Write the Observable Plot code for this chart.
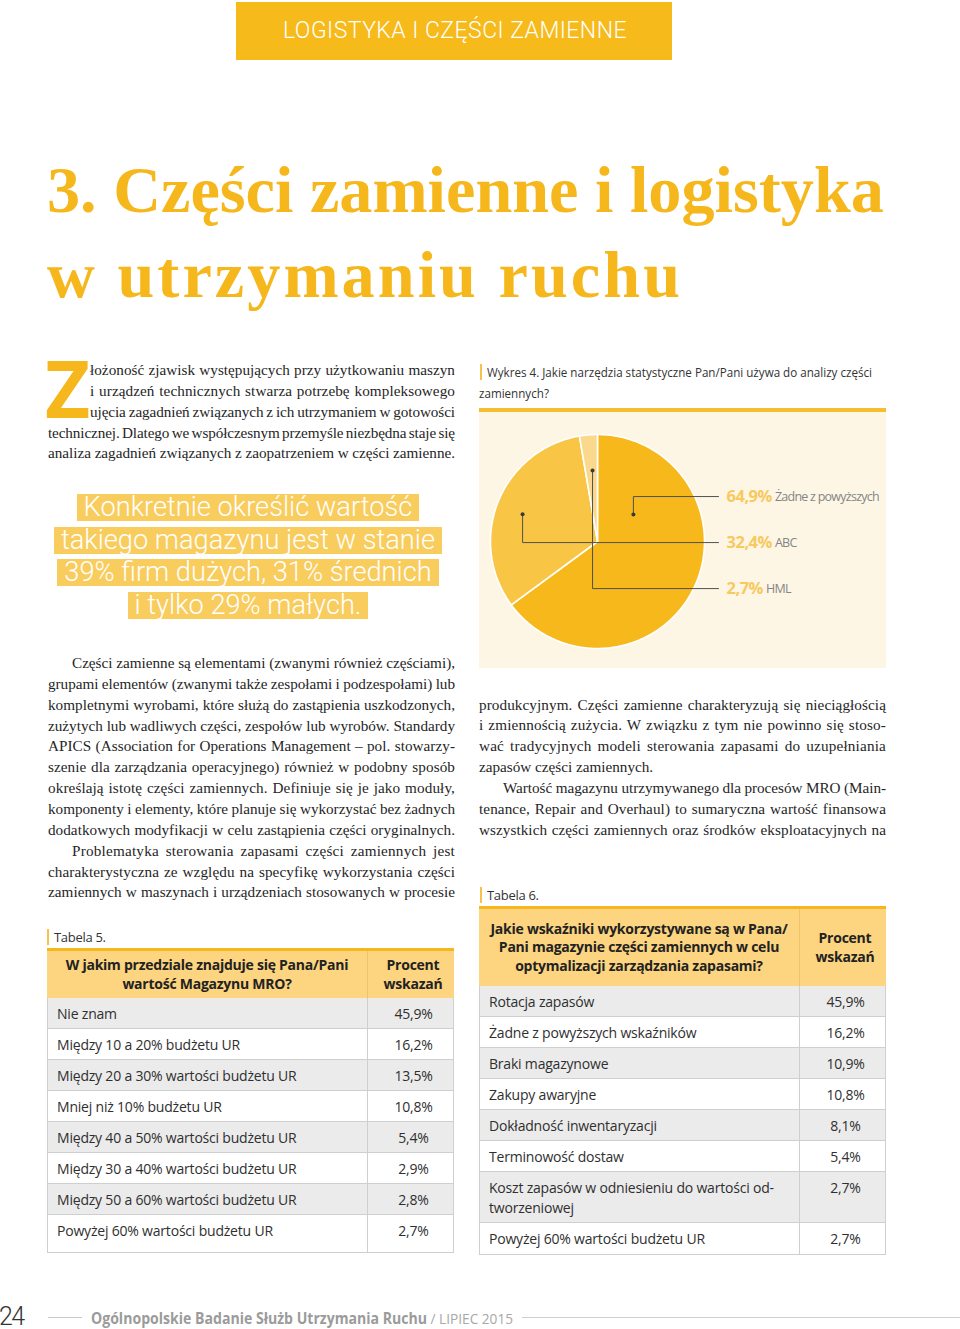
<!DOCTYPE html>
<html lang="pl">
<head>
<meta charset="utf-8">
<title>Części zamienne i logistyka w utrzymaniu ruchu</title>
<script src="https://cdn.jsdelivr.net/npm/d3@7"></script>
<script src="https://cdn.jsdelivr.net/npm/@observablehq/plot@0.6"></script>
<style>
html,body{margin:0;padding:0;background:#fff;}
#page{position:relative;width:960px;height:1329px;overflow:hidden;background:#fff;}
#page .a{position:absolute;white-space:pre;}
</style>
</head>
<body>
<div id="page"></div>
<script>
// ---------------- DATA ----------------
const pieCategories = ["Żadne z powyższych", "ABC", "HML"];
const pieValues = [64.9, 32.4, 2.7];
const pieValueLabels = ["64,9%", "32,4%", "2,7%"];
const pieColors = ["#F6B81B", "#F8C545", "#FAD98D"];

const tab5Question = ["W jakim przedziale znajduje się Pana/Pani", "wartość Magazynu MRO?"];
const tab5Categories = ["Nie znam", "Między 10 a 20% budżetu UR", "Między 20 a 30% wartości budżetu UR", "Mniej niż 10% budżetu UR", "Między 40 a 50% wartości budżetu UR", "Między 30 a 40% wartości budżetu UR", "Między 50 a 60% wartości budżetu UR", "Powyżej 60% wartości budżetu UR"];
const tab5Values = ["45,9%", "16,2%", "13,5%", "10,8%", "5,4%", "2,9%", "2,8%", "2,7%"];

const tab6Question = ["Jakie wskaźniki wykorzystywane są w Pana/", "Pani magazynie części zamiennych w celu", "optymalizacji zarządzania zapasami?"];
const tab6Categories = ["Rotacja zapasów", "Żadne z powyższych wskaźników", "Braki magazynowe", "Zakupy awaryjne", "Dokładność inwentaryzacji", "Terminowość dostaw", "Koszt zapasów w odniesieniu do wartości od\u00ADtworzeniowej", "Powyżej 60% wartości budżetu UR"];
const tab6Values = ["45,9%", "16,2%", "10,9%", "10,8%", "8,1%", "5,4%", "2,7%", "2,7%"];
const valueHeader = ["Procent", "wskazań"];

const bannerText = "LOGISTYKA I CZĘŚCI ZAMIENNE";
const titleLines = ["3. Części zamienne i logistyka", "w utrzymaniu ruchu"];
const dropCap = "Z";
const introLines = [
  "łożoność zjawisk występujących przy użytkowaniu maszyn",
  "i urządzeń technicznych stwarza potrzebę kompleksowego",
  "ujęcia zagadnień związanych z ich utrzymaniem w gotowości",
  "technicznej. Dlatego we współczesnym przemyśle niezbędna staje się",
  "analiza zagadnień związanych z zaopatrzeniem w części zamienne."
];
const quoteLines = ["Konkretnie określić wartość", "takiego magazynu jest w stanie", "39% firm dużych, 31% średnich", "i tylko 29% małych."];
const leftColumnLines = [
  "Części zamienne są elementami (zwanymi również częściami),",
  "grupami elementów (zwanymi także zespołami i podzespołami) lub",
  "kompletnymi wyrobami, które służą do zastąpienia uszkodzonych,",
  "zużytych lub wadliwych części, zespołów lub wyrobów. Standardy",
  "APICS (Association for Operations Management – pol. stowarzy-",
  "szenie dla zarządzania operacyjnego) również w podobny sposób",
  "określają istotę części zamiennych. Definiuje się je jako moduły,",
  "komponenty i elementy, które planuje się wykorzystać bez żadnych",
  "dodatkowych modyfikacji w celu zastąpienia części oryginalnych.",
  "Problematyka sterowania zapasami części zamiennych jest",
  "charakterystyczna ze względu na specyfikę wykorzystania części",
  "zamiennych w maszynach i urządzeniach stosowanych w procesie"
];
const rightColumnLines = [
  "produkcyjnym. Części zamienne charakteryzują się nieciągłością",
  "i zmiennością zużycia. W związku z tym nie powinno się stoso-",
  "wać tradycyjnych modeli sterowania zapasami do uzupełniania",
  "zapasów części zamiennych.",
  "Wartość magazynu utrzymywanego dla procesów MRO (Main-",
  "tenance, Repair and Overhaul) to sumaryczna wartość finansowa",
  "wszystkich części zamiennych oraz środków eksploatacyjnych na"
];
const chartCaption = ["Wykres 4. Jakie narzędzia statystyczne Pan/Pani używa do analizy części", "zamiennych?"];
const footerPage = "24";
const footerBold = "Ogólnopolskie Badanie Służb Utrzymania Ruchu";
const footerLight = " / LIPIEC 2015";

// ---------------- HELPERS ----------------
const page = document.getElementById("page");
const YEL = "#F5B71C";
function box(css) { const d = document.createElement("div"); d.style.position = "absolute"; Object.assign(d.style, css); page.appendChild(d); return d; }
function span(text, css) { const s = document.createElement("span"); s.className = "a"; s.textContent = text; Object.assign(s.style, css); page.appendChild(s); return s; }
function width(s) { return s.getBoundingClientRect().width; }
function fit(s, target) { const n = [...s.textContent].length; const cur = parseFloat(s.style.letterSpacing || 0); s.style.letterSpacing = (cur + (target - width(s)) / n) + "px"; }
function squeeze(s, target) { const k = target / width(s); s.style.transformOrigin = "0 50%"; s.style.transform = `scaleX(${k})`; return k; }
function justify(s, target) {
  const n = [...s.textContent].length;
  const k = (s.textContent.match(/ /g) || []).length;
  const slack = target - width(s);
  const ls = Math.max(-0.35, Math.min(0.35, slack * 0.45 / n));
  s.style.letterSpacing = ls + "px";
  const rest = target - width(s);
  if (k) s.style.wordSpacing = (rest / k) + "px";
}
function line(text, x, yc, size, css) { const L = Math.round(size * 1.4); return span(text, Object.assign({ left: x + "px", top: (yc - L / 2) + "px", lineHeight: L + "px", fontSize: size + "px" }, css)); }

const sans = '"Open Sans", sans-serif';
const serif = '"Liberation Serif", serif';
const SVGNS = "http://www.w3.org/2000/svg";

// ---------------- BANNER ----------------
box({ left: "236px", top: "2px", width: "436px", height: "58px", background: "#F6BA1B" });
{ const s = line(bannerText, 283, 31, 23, { fontFamily: "Roboto, sans-serif", fontWeight: 300, color: "#fff" }); fit(s, 344); }

// ---------------- TITLE ----------------
{
  const f0 = 66;
  const probe = span(titleLines[0], { fontFamily: serif, fontWeight: 700, fontSize: f0 + "px", left: "0px", top: "-500px" });
  const f = f0 * 837 / width(probe); probe.remove();
  const L = 85;
  const base = (L - 1.107 * f) / 2 + 0.891 * f;
  const targets = [837, 636];
  titleLines.forEach((t, i) => {
    const s = span(t, { fontFamily: serif, fontWeight: 700, fontSize: f + "px", lineHeight: L + "px", color: YEL, left: "47px", top: (212 + i * L - base) + "px" });
    if (i > 0) fit(s, targets[i]);
  });
}

// ---------------- BODY TEXT ----------------
function paragraph(lines, x0, w, top0, indents, noJustify) {
  const lh = 20.85;
  lines.forEach((t, i) => {
    const ind = indents[i] || 0;
    const s = span(t, { fontFamily: serif, fontSize: "15.2px", lineHeight: lh + "px", color: "#262626", left: (x0 + ind) + "px", top: (top0 + i * lh) + "px" });
    if (!noJustify.includes(i)) justify(s, w - ind);
  });
}
{
  // drop cap drawn as SVG text
  const svg = document.createElementNS(SVGNS, "svg");
  svg.setAttribute("width", "52"); svg.setAttribute("height", "58");
  Object.assign(svg.style, { position: "absolute", left: "44px", top: "362px", overflow: "visible" });
  const tx = document.createElementNS(SVGNS, "text");
  tx.setAttribute("x", "1"); tx.setAttribute("y", "56");
  tx.setAttribute("font-family", "Open Sans, sans-serif"); tx.setAttribute("font-weight", "700");
  tx.setAttribute("font-size", "78"); tx.setAttribute("fill", YEL);
  tx.textContent = dropCap;
  svg.appendChild(tx); page.appendChild(svg);
}
paragraph(introLines, 48, 407, 360, [42, 42, 42, 0, 0], []);
paragraph(leftColumnLines, 48, 407, 653, { 0: 24, 9: 24 }, []);
paragraph(rightColumnLines, 479, 407, 694.5, { 4: 24 }, [3]);

// ---------------- PULL QUOTE ----------------
{
  const tops = [494, 527, 559, 592];
  const probe = span(quoteLines[0], { fontFamily: "Roboto, sans-serif", fontWeight: 300, fontSize: "26px", left: "0px", top: "-500px" });
  const f = 26 * 329 / width(probe); probe.remove();
  quoteLines.forEach((t, i) => {
    const s = span(t, { fontFamily: "Roboto, sans-serif", fontWeight: 300, fontSize: f + "px", lineHeight: "27px", height: "27px", color: "#fff", background: "#F9CC5E", padding: "0 7px", top: tops[i] + "px", left: "0px" });
    s.style.left = (248 - width(s) / 2) + "px";
  });
}

// ---------------- CHART CAPTION ----------------
box({ left: "480px", top: "364px", width: "2px", height: "16px", background: "#F6C24A" });
{
  const s1 = line(chartCaption[0], 487, 372, 13.5, { fontFamily: sans, color: "#333" });
  const k = squeeze(s1, 385);
  const s2 = line(chartCaption[1], 479, 393, 13.5, { fontFamily: sans, color: "#333" });
  s2.style.transformOrigin = "0 50%"; s2.style.transform = `scaleX(${k})`;
}
box({ left: "479px", top: "408px", width: "407px", height: "4px", background: "#F6BE2E" });

// ---------------- PIE CHART (Observable Plot) ----------------
{
  const W = 407, H = 256, R = 107, CX = 118, CY = 129;
  const arcs = d3.pie().sort(null)(pieValues);
  const poly = [];
  arcs.forEach((a, i) => {
    const slice = pieCategories[i];
    poly.push({ slice, x: 0, y: 0 });
    const n = Math.max(4, Math.ceil((a.endAngle - a.startAngle) / 0.02));
    for (let k = 0; k <= n; k++) {
      const t = a.startAngle + (a.endAngle - a.startAngle) * k / n;
      poly.push({ slice, x: Math.sin(t), y: Math.cos(t) });
    }
    poly.push({ slice, x: 0, y: 0 });
  });
  // leader anchors: angle (deg, clockwise from top) and radius fraction within each slice
  const anchorAngle = [53, 290, 356];
  const anchorRadius = [0.42, 0.745, 0.665];
  const rowY = i => 0.42 - 0.43 * i;
  const leaderEnd = 1.131, labelX = 1.206;
  const anchors = pieCategories.map((c, i) => {
    const t = anchorAngle[i] * Math.PI / 180;
    return { slice: c, x: anchorRadius[i] * Math.sin(t), y: anchorRadius[i] * Math.cos(t) };
  });
  const leaders = [];
  anchors.forEach((a, i) => {
    leaders.push({ slice: a.slice, x: a.x, y: a.y });
    leaders.push({ slice: a.slice, x: a.x, y: rowY(i) });
    leaders.push({ slice: a.slice, x: leaderEnd, y: rowY(i) });
  });
  const ctx = document.createElement("canvas").getContext("2d");
  ctx.font = "700 16.5px 'Open Sans'";
  const labels = pieCategories.map((c, i) => ({
    pct: pieValueLabels[i], cat: c, y: rowY(i), x: labelX,
    x2: labelX + (ctx.measureText(pieValueLabels[i]).width - 0.5 * [...pieValueLabels[i]].length + 3) / R
  }));
  const chart = Plot.plot({
    width: W, height: H, margin: 0,
    style: { background: "#FEF6E5", fontFamily: "Open Sans, sans-serif", overflow: "visible" },
    x: { domain: [-CX / R, (W - CX) / R], range: [0, W], axis: null },
    y: { domain: [-(H - CY) / R, CY / R], range: [H, 0], axis: null },
    color: { domain: pieCategories, range: pieColors },
    marks: [
      Plot.line(poly, { x: "x", y: "y", z: "slice", fill: "slice", stroke: "#fff", strokeWidth: 1.6, curve: "linear" }),
      Plot.line(leaders, { x: "x", y: "y", z: "slice", stroke: "#505050", strokeWidth: 1, curve: "linear" }),
      Plot.dot(anchors, { x: "x", y: "y", r: 2, fill: "#3a3a3a" }),
      Plot.text(labels, { x: "x", y: "y", text: "pct", textAnchor: "start", fontSize: 16.5, fontWeight: 700, fill: "#F7C95E" }),
      Plot.text(labels, { x: "x2", y: "y", text: "cat", textAnchor: "start", fontSize: 12.5, fill: "#858585" })
    ]
  });
  const textGroups = chart.querySelectorAll('g[aria-label="text"]');
  if (textGroups[0]) textGroups[0].style.letterSpacing = "-0.5px";
  if (textGroups[1]) textGroups[1].style.letterSpacing = "-0.75px";
  const holder = box({ left: "479px", top: "412px", width: W + "px", height: H + "px" });
  holder.appendChild(chart);
}

// ---------------- TABLES ----------------
function caption(text, x, yc) {
  box({ left: (x - 7) + "px", top: (yc - 8) + "px", width: "2px", height: "16px", background: "#F6C24A" });
  line(text, x, yc, 13, { fontFamily: sans, color: "#333", letterSpacing: "-0.3px" });
}
function table(opts) {
  const { x, top, w, col1, question, cats, vals, headerH, lastExtra } = opts;
  const t = box({ left: x + "px", top: top + "px", width: w + "px", borderTop: "3px solid " + YEL, fontFamily: sans, fontSize: "14px", color: "#2f2f2f", boxSizing: "border-box" });
  const head = document.createElement("div");
  Object.assign(head.style, { display: "flex", height: headerH + "px", background: "#FDD47F" });
  t.appendChild(head);
  const hc = (wd, lines) => {
    const c = document.createElement("div");
    Object.assign(c.style, { width: wd, flex: wd === "auto" ? "1" : "none", display: "flex", flexDirection: "column", justifyContent: "center", alignItems: "center", fontWeight: "700", lineHeight: "18.5px", letterSpacing: "-0.25px", textAlign: "center", color: "#222", boxSizing: "border-box" });
    lines.forEach(q => { const d = document.createElement("div"); d.textContent = q; d.style.whiteSpace = "nowrap"; c.appendChild(d); });
    head.appendChild(c); return c;
  };
  hc(col1 + "px", question).style.borderRight = "1px solid #EFC36A";
  hc("auto", valueHeader).style.paddingLeft = "4px";
  cats.forEach((c, i) => {
    const r = document.createElement("div");
    Object.assign(r.style, { display: "flex", background: i % 2 === 0 ? "#EBEBEB" : "#FFFFFF", borderLeft: "1px solid #cfcfcf", borderRight: "1px solid #cfcfcf", borderBottom: "1px solid #cfcfcf", boxSizing: "border-box", lineHeight: "20px", letterSpacing: "-0.2px" });
    const pb = 4 + (i === cats.length - 1 ? lastExtra : 0);
    const a = document.createElement("div");
    Object.assign(a.style, { width: (col1 - 1) + "px", boxSizing: "border-box", padding: `6px 4px ${pb}px 9px`, borderRight: "1px solid #cfcfcf", hyphens: "manual" });
    a.textContent = c;
    const b = document.createElement("div");
    Object.assign(b.style, { flex: "1", textAlign: "center", padding: `6px 0 ${pb}px 6px` });
    b.textContent = vals[i];
    r.appendChild(a); r.appendChild(b); t.appendChild(r);
  });
}
caption("Tabela 5.", 54, 937);
table({ x: 47, top: 948, w: 407, col1: 321, question: tab5Question, cats: tab5Categories, vals: tab5Values, headerH: 47, lastExtra: 7 });
caption("Tabela 6.", 487, 895);
table({ x: 479, top: 906, w: 407, col1: 321, question: tab6Question, cats: tab6Categories, vals: tab6Values, headerH: 77, lastExtra: 1 });

// ---------------- FOOTER ----------------
line(footerPage, -1, 1316, 25, { fontFamily: "Roboto, sans-serif", fontWeight: 300, color: "#333", letterSpacing: "-1.5px" });
box({ left: "48px", top: "1317px", width: "34px", height: "1px", background: "#c8c8c8" });
{
  const s = line(footerBold, 91, 1318, 15.5, { fontFamily: sans, fontWeight: 700, color: "#9b9b9b" });
  squeeze(s, 336);
  const s2 = line(footerLight, 427, 1318, 15, { fontFamily: sans, fontWeight: 400, color: "#a8a8a8" });
  squeeze(s2, 86);
}
box({ left: "522px", top: "1317px", width: "438px", height: "1px", background: "#d0d0d0" });
</script>
</body>
</html>
